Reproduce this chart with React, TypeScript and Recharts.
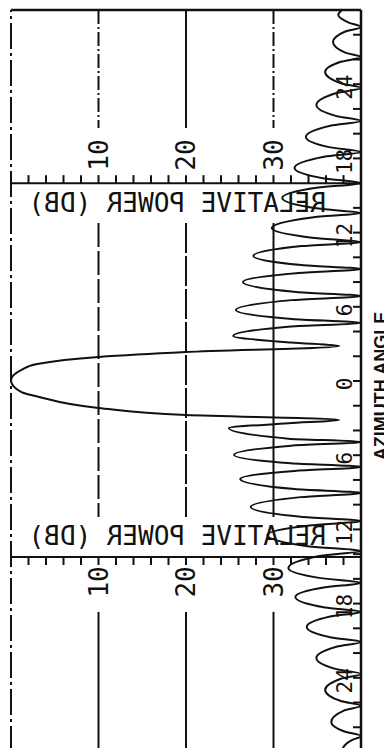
import React from "react";
import { LineChart, Line, XAxis, YAxis, ReferenceLine, ReferenceDot } from "recharts";

// [azimuth angle in deg (+ = upper half of the sheet), relative power in dB below peak]
const MAIN_BEAM: [number, number][] = [
  [2.83, 37.5], [2.34, 20], [1.94, 10], [1.37, 3], [0.9, 1.2], [0.05, 0],
  [-0.9, 1.2], [-1.25, 3], [-2.18, 10], [-2.75, 20], [-3.15, 37.5],
];

const UPPER_SIDELOBES: [number, number][] = [
  [3.11, 32.0], [3.64, 25.4], [4.41, 32.0], [4.69, 40],
  [5.02, 32.1], [5.74, 25.7], [6.54, 32.1], [6.87, 40],
  [7.2, 32.6], [8.0, 26.5], [8.72, 32.6], [9.05, 40],
  [9.38, 33.2], [10.11, 27.7], [10.91, 33.2], [11.24, 40],
  [11.59, 34.4], [12.37, 29.8], [13.23, 34.4], [13.58, 40],
  [13.94, 35.1], [14.8, 31.0], [15.64, 35.1], [16.0, 40],
  [16.38, 35.8], [17.22, 32.4], [18.13, 35.8], [18.51, 40],
  [18.89, 36.5], [19.73, 33.7], [20.64, 36.5], [21.02, 40],
  [21.42, 37.2], [22.31, 34.9], [23.29, 37.2], [23.69, 40],
  [24.07, 37.7], [24.98, 35.9], [25.81, 37.7], [26.19, 40],
  [26.55, 38.2], [27.41, 36.8], [28.26, 38.2], [28.62, 40],
  [28.98, 38.6], [29.59, 37.4], [30, 37.8],
];

const LOWER_SIDELOBES: [number, number][] = [
  [-3.42, 31.7], [-3.8, 24.9], [-4.66, 31.7], [-4.93, 40],
  [-5.23, 32.0], [-5.98, 25.5], [-6.65, 32.0], [-6.95, 40],
  [-7.27, 32.4], [-7.92, 26.2], [-8.74, 32.4], [-9.05, 40],
  [-9.39, 33.1], [-10.19, 27.4], [-10.98, 33.1], [-11.32, 40],
  [-11.68, 34.1], [-12.45, 29.3], [-13.38, 34.1], [-13.74, 40],
  [-14.13, 35.4], [-15.12, 31.7], [-15.94, 35.4], [-16.33, 40],
  [-16.68, 35.9], [-17.46, 32.5], [-18.32, 35.9], [-18.67, 40],
  [-19.03, 36.6], [-19.89, 33.8], [-20.74, 36.6], [-21.1, 40],
  [-21.49, 37.2], [-22.39, 34.9], [-23.3, 37.2], [-23.69, 40],
  [-24.08, 37.7], [-24.98, 35.9], [-25.88, 37.7], [-26.27, 40],
  [-26.63, 38.1], [-27.57, 36.6], [-28.34, 38.1], [-28.7, 40],
  [-29.06, 38.9], [-29.83, 37.9], [-30, 38.0],
];

const AZIMUTH_TICKS = [
  28, 26, 24, 22, 20, 18, 16, 14, 12, 10, 8, 6, 4, 2, 0,
  -2, -4, -6, -8, -10, -12, -14, -16, -18, -20, -22, -24, -26, -28,
];
const AZIMUTH_LABELS = [24, 18, 12, 6, 0, -6, -12, -18, -24];
const POWER_TICKS = [2, 4, 6, 8, 10, 12, 14, 16, 18, 20, 22, 24, 26, 28, 30, 32, 34, 36, 38];
const POWER_LABELS = [10, 20, 30];
const POWER_TITLE = "RELATIVE POWER (DB)";
const AXIS_TITLE = "AZIMUTH ANGLE";

const pattern = [...UPPER_SIDELOBES, ...MAIN_BEAM, ...LOWER_SIDELOBES]
  .map(([angle, db]) => ({ angle, db }))
  .sort((a, b) => b.angle - a.angle);

const INK = "#111";
const PLOTTER = "'DejaVu Sans Mono', monospace";

// where the two dB scales sit on the sheet
const UPPER_SCALE = 16.0;
const LOWER_SCALE = -14.23;

// grid runs: [dB, from angle, to angle, dash]
const gridRuns: [number, number, number, string | undefined][] = [
  [10, 30, 20.45, "14 3 2 3"],
  [20, 30, 20.45, undefined],
  [30, 30, 20.45, "14 3 2 3"],
  [10, 12.77, -11, "24 4"],
  [20, 12.77, -11, "30 3"],
  [30, 12.77, -11, undefined],
  [10, -18.67, -30, undefined],
  [20, -18.67, -30, undefined],
  [30, -18.67, -30, undefined],
];

const vTick = (dir: number) => (p: any) => (
  <line x1={p.cx} y1={p.cy} x2={p.cx} y2={p.cy + dir * 8} stroke={INK} strokeWidth={2} />
);

const hTick = (p: any) => (
  <line x1={p.cx} y1={p.cy} x2={p.cx - 8} y2={p.cy} stroke={INK} strokeWidth={2} />
);

const rotated = (text: string, dx: number, dy: number, size: number) => (p: any) => {
  const bx = p.cx + dx;
  const by = p.cy + dy;
  return (
    <text
      x={bx}
      y={by}
      transform={`rotate(-90 ${bx} ${by})`}
      textAnchor="middle"
      fontFamily={PLOTTER}
      fontSize={size}
      fill={INK}
    >
      {text}
    </text>
  );
};

const mirroredTitle = (p: any) => (
  <g transform={`translate(${p.cx} ${p.cy}) scale(-1 1)`}>
    <text x={0} y={9.5} textAnchor="middle" fontFamily={PLOTTER} fontSize={26} fill={INK}>
      {POWER_TITLE}
    </text>
  </g>
);

const azimuthTitle = (p: any) => {
  const bx = p.cx + 25.5;
  const by = p.cy + 5;
  return (
    <text
      x={bx}
      y={by}
      transform={`rotate(-90 ${bx} ${by})`}
      textAnchor="middle"
      fontFamily="'Liberation Sans', Arial, sans-serif"
      fontWeight="bold"
      fontSize={18}
      fill={INK}
    >
      {AXIS_TITLE}
    </text>
  );
};

export default function App() {
  return (
    <div style={{ width: 384, height: 748, background: "#fff", marginBottom: -8 }}>
      <LineChart
        width={384}
        height={748}
        data={pattern}
        layout="vertical"
        margin={{ top: 2, right: 31, bottom: 4, left: 3 }}
      >
        <XAxis type="number" domain={[0, 40]} hide />
        <YAxis type="number" dataKey="angle" domain={[-30, 30]} reversed hide />

        <ReferenceLine x={0} stroke={INK} strokeWidth={2} strokeDasharray="26 4 3 4" ifOverflow="visible" />
        <ReferenceLine x={40} stroke={INK} strokeWidth={2.5} ifOverflow="visible" />
        <ReferenceLine y={30} stroke={INK} strokeWidth={2.5} ifOverflow="visible" />
        <ReferenceLine y={-30} stroke={INK} strokeWidth={2.5} ifOverflow="visible" />
        <ReferenceLine y={UPPER_SCALE} stroke={INK} strokeWidth={2} ifOverflow="visible" />
        <ReferenceLine y={LOWER_SCALE} stroke={INK} strokeWidth={2} ifOverflow="visible" />

        {gridRuns.map(([db, from, to, dash], i) => (
          <ReferenceLine
            key={`g${i}`}
            segment={[{ x: db, y: from }, { x: db, y: to }]}
            stroke={INK}
            strokeWidth={2}
            strokeDasharray={dash}
            ifOverflow="visible"
          />
        ))}

        {POWER_TICKS.map((v) => (
          <ReferenceDot key={`tu${v}`} x={v} y={UPPER_SCALE} r={0} ifOverflow="visible" shape={vTick(-1)} />
        ))}
        {POWER_TICKS.map((v) => (
          <ReferenceDot key={`tl${v}`} x={v} y={LOWER_SCALE} r={0} ifOverflow="visible" shape={vTick(1)} />
        ))}
        {POWER_LABELS.map((v) => (
          <ReferenceDot key={`lu${v}`} x={v} y={18.27} r={0} ifOverflow="visible" shape={rotated(String(v), 9.5, 0, 26)} />
        ))}
        {POWER_LABELS.map((v) => (
          <ReferenceDot key={`ll${v}`} x={v} y={-16.25} r={0} ifOverflow="visible" shape={rotated(String(v), 9.5, 0, 26)} />
        ))}

        {AZIMUTH_TICKS.map((v) => (
          <ReferenceDot key={`at${v}`} x={40} y={v} r={0} ifOverflow="visible" shape={hTick} />
        ))}
        {AZIMUTH_LABELS.map((v) => (
          <ReferenceDot
            key={`al${v}`}
            x={40}
            y={v}
            r={0}
            ifOverflow="visible"
            shape={rotated(String(Math.abs(v)), -9.4, 3, 21)}
          />
        ))}

        <ReferenceDot x={19} y={14.4} r={0} ifOverflow="visible" shape={mirroredTitle} />
        <ReferenceDot x={19} y={-12.53} r={0} ifOverflow="visible" shape={mirroredTitle} />
        <ReferenceDot x={40} y={0} r={0} ifOverflow="visible" shape={azimuthTitle} />

        <Line
          dataKey="db"
          type="monotone"
          stroke={INK}
          strokeWidth={2}
          dot={false}
          isAnimationActive={false}
        />
      </LineChart>
    </div>
  );
}
